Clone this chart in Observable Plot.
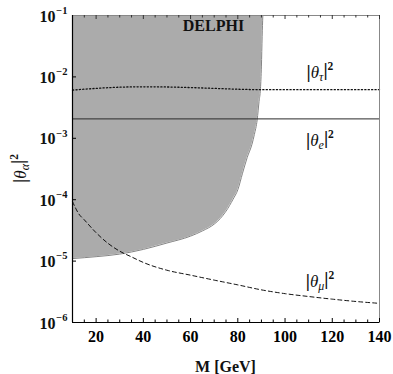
<!DOCTYPE html>
<html><head><meta charset="utf-8">
<script src="https://cdn.jsdelivr.net/npm/d3@7"></script>
<script src="https://cdn.jsdelivr.net/npm/@observablehq/plot@0.6"></script>
<style>
html,body{margin:0;padding:0;background:#fff;}
svg{font-family:"Liberation Serif","Times New Roman",serif;}
</style></head><body><div id="chart"></div>
<script>
// DELPHI excluded region: lower boundary
const boundaryMass = [10,20,30,40,50,60,65,70,72.5,75,78,80,82,84,86,87,88.2,89,89.6,90,90.3,90.6];
const boundaryLow  = [1.1e-5,1.18e-5,1.3e-5,1.55e-5,1.97e-5,2.55e-5,3.1e-5,4.0e-5,4.9e-5,6.5e-5,1.02e-4,1.45e-4,2.7e-4,4.9e-4,8e-4,1.15e-3,2e-3,4e-3,6.5e-3,1.5e-2,4.5e-2,1e-1];
const regionTop = 0.1;
// |theta_tau|^2 (dotted)
const tauMass = [10,20,30,40,50,60,70,80,90,100,110,120,130,140];
const tauVal  = [6.1e-3,6.5e-3,6.8e-3,6.9e-3,6.85e-3,6.7e-3,6.5e-3,6.3e-3,6.2e-3,6.2e-3,6.2e-3,6.2e-3,6.2e-3,6.2e-3];
// |theta_e|^2 (solid)
const eMass = [10,140];
const eVal  = [2.07e-3,2.07e-3];
// |theta_mu|^2 (dashed)
const muMass = [10,11.3,12.5,15,20,25,30,35,40,50,60,70,80,90,100,110,120,130,140];
const muVal  = [9.3e-5,7.3e-5,6.0e-5,4.7e-5,2.9e-5,1.95e-5,1.45e-5,1.17e-5,9.5e-6,7.1e-6,5.9e-6,4.9e-6,4.1e-6,3.4e-6,2.95e-6,2.65e-6,2.4e-6,2.2e-6,2.05e-6];
// ticks
const xMajorTicks = [20,40,60,80,100,120,140];
const xMinorTicks = [15,25,30,35,45,50,55,65,70,75,85,90,95,105,110,115,125,130,135];
const yTicks = [1e-6,1e-5,1e-4,1e-3,1e-2,1e-1];
const yTickBase = "10";
// labels
const regionLabel = {text:"DELPHI", M:69.7, y:0.0676};
const curveLabels = [
  {sub:"τ", M:115, y:1.17e-2},
  {sub:"e", M:115, y:9.3e-4},
  {sub:"μ", M:115, y:4.7e-6}
];
const xTitle = "M [GeV]";

const boundary = boundaryMass.map((M,i)=>({M, lo:boundaryLow[i]}));
const tau = tauMass.map((M,i)=>({M, v:tauVal[i]}));
const eLine = eMass.map((M,i)=>({M, v:eVal[i]}));
const mu = muMass.map((M,i)=>({M, v:muVal[i]}));

const W=393,H=374,mL=72,mR=14,mT=15,mB=52;
const innerH = H-mT-mB, innerW = W-mL-mR;

const plot = Plot.plot({
  width:W, height:H, marginLeft:mL, marginRight:mR, marginTop:mT, marginBottom:mB,
  style:{fontFamily:"Liberation Serif, serif", background:"white"},
  x:{type:"linear", domain:[10,140]},
  y:{type:"log", domain:[1e-6,1e-1], axis:null},
  marks:[
    Plot.areaY(boundary,{x:"M", y1:"lo", y2:regionTop, fill:"#ababab", curve:"monotone-x"}),
    Plot.line(boundary,{x:"M", y:"lo", stroke:"#858585", strokeWidth:1, curve:"monotone-x"}),
    Plot.line(tau,{x:"M", y:"v", stroke:"#111", strokeWidth:1.3, strokeDasharray:"1.2,2.2", curve:"monotone-x"}),
    Plot.line(eLine,{x:"M", y:"v", stroke:"#2a2a2a", strokeWidth:1}),
    Plot.line(mu,{x:"M", y:"v", stroke:"#111", strokeWidth:1, strokeDasharray:"4,3", curve:"monotone-x"}),
    Plot.frame({stroke:"#888"}),
    Plot.ruleX([10],{stroke:"black", strokeWidth:1.2}),
    Plot.ruleY([1e-6],{stroke:"black", strokeWidth:1.2}),
    Plot.ruleX(xMajorTicks,{insetTop:innerH-4, stroke:"black"}),
    Plot.ruleX(xMinorTicks,{insetTop:innerH-2.5, stroke:"black"}),
    Plot.ruleX(xMajorTicks,{insetBottom:innerH-4, stroke:"#333"}),
    Plot.ruleX(xMinorTicks,{insetBottom:innerH-2.5, stroke:"#333"}),
    Plot.ruleY(yTicks.slice(1,-1),{insetRight:innerW-4, stroke:"black"}),
    Plot.axisX({ticks:xMajorTicks, tickSize:0, tickPadding:8, fontSize:16, fontWeight:"bold", label:null, tickFormat:d=>String(d)}),
    // y tick labels: base and exponent
    Plot.text(yTicks,{y:d=>d, frameAnchor:"left", text:()=>yTickBase, textAnchor:"end", dx:-17, dy:1, fontSize:16, fontWeight:"bold", fill:"#111"}),
    Plot.text(yTicks,{y:d=>d, frameAnchor:"left", text:d=>"−"+Math.abs(Math.round(Math.log10(d))), textAnchor:"end", dx:-5, dy:-5, fontSize:10.5, fontWeight:"bold", fill:"#111"}),
    Plot.text([regionLabel],{x:"M", y:"y", text:"text", fontSize:16, fontWeight:"bold", fill:"#111"})
  ]
});
document.getElementById("chart").appendChild(plot);

const svg = d3.select(plot);
const sx = plot.scale("x"), sy = plot.scale("y");
function rich(parent, sub, x, y, rotate){
  const t = parent.append("text")
    .attr("text-anchor","middle")
    .attr("font-size",17)
    .attr("fill","#111")
    .attr("font-family","Liberation Serif, serif")
    .attr("transform", `translate(${x},${y})` + (rotate?` rotate(${rotate})`:""));
  t.append("tspan").text("|").attr("font-weight","bold").attr("font-size",19);
  t.append("tspan").text("θ").attr("font-style","italic");
  t.append("tspan").text(sub).attr("font-style","italic").attr("font-size",12).attr("dy","0.25em");
  t.append("tspan").text("|").attr("font-weight","bold").attr("font-size",19).attr("dy","-0.25em");
  t.append("tspan").text("2").attr("font-size",11.5).attr("font-weight","bold").attr("dy","-0.55em");
  return t;
}
for(const L of curveLabels){
  rich(svg, L.sub, sx.apply(L.M), sy.apply(L.y)+6);
}
rich(svg, "α", 26, (mT + H - mB)/2, -90);
svg.append("text").attr("x",(mL + W - mR)/2).attr("y",371.5).attr("text-anchor","middle")
  .attr("font-family","Liberation Serif, serif")
  .attr("font-size",16).attr("font-weight","bold").attr("fill","#111").text(xTitle);
</script></body></html>
